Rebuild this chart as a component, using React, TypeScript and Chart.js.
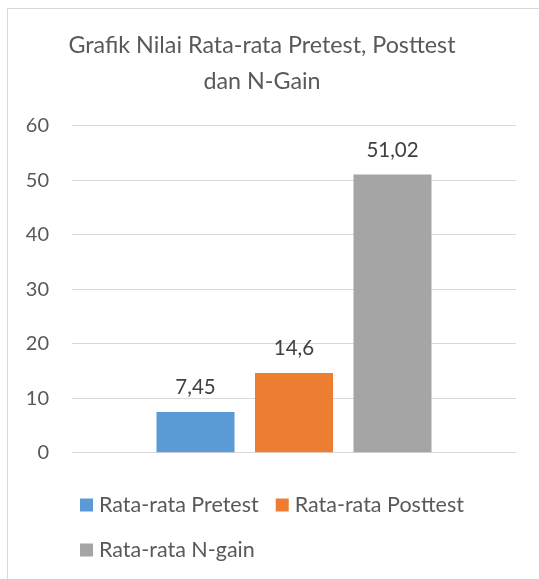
import React, { useEffect, useRef } from "react";
import { Chart, registerables } from "chart.js";

Chart.register(...registerables);

const categories = ["Nilai"];
const seriesLabels = ["Rata-rata Pretest", "Rata-rata Posttest", "Rata-rata N-gain"];
const seriesValues = [7.45, 14.6, 51.02];
const seriesColors = ["#5B9BD5", "#ED7D31", "#A5A5A5"];
const titleLines = ["Grafik Nilai Rata-rata Pretest, Posttest", "dan N-Gain"];
const yMin = 0;
const yMax = 60;
const yStep = 10;

const FONT = "Lato";

const formatValue = (v: number) => String(v).replace(".", ",");

const dataLabelPlugin = {
  id: "dataLabels",
  afterDatasetsDraw(chart: any) {
    const { ctx } = chart;
    ctx.save();
    ctx.font = `20.5px ${FONT}`;
    ctx.fillStyle = "#404040";
    ctx.textAlign = "center";
    ctx.textBaseline = "alphabetic";
    chart.data.datasets.forEach((ds: any, i: number) => {
      const meta = chart.getDatasetMeta(i);
      meta.data.forEach((bar: any, j: number) => {
        const v = ds.data[j];
        ctx.fillText(formatValue(v), bar.x, bar.y - 18);
      });
    });
    ctx.restore();
  },
};

const legendPlugin = {
  id: "customLegend",
  afterDraw(chart: any) {
    const { ctx, chartArea } = chart;
    ctx.save();
    ctx.font = `21.5px ${FONT}`;
    ctx.textBaseline = "middle";
    ctx.textAlign = "left";
    const startX = chartArea.left + 8;
    let x = startX;
    let y = chartArea.bottom + 52.3;
    chart.data.datasets.forEach((ds: any, i: number) => {
      const tw = ctx.measureText(ds.label).width;
      const w = 13 + 6 + tw;
      if (i > 0 && x + w > chart.width - 10) {
        x = startX;
        y += 45;
      }
      ctx.fillStyle = ds.backgroundColor;
      ctx.fillRect(x, y - 6.5, 13, 13);
      ctx.fillStyle = "#595959";
      ctx.fillText(ds.label, x + 19, y);
      x += w + 17;
    });
    ctx.restore();
  },
};

export default function App() {
  const canvasRef = useRef<HTMLCanvasElement | null>(null);

  useEffect(() => {
    if (!canvasRef.current) return;
    Chart.defaults.font.family = FONT;
    const chart = new Chart(canvasRef.current, {
      type: "bar",
      data: {
        labels: categories,
        datasets: seriesLabels.map((label, i) => ({
          label,
          data: [seriesValues[i]],
          backgroundColor: seriesColors[i],
          borderWidth: 0,
          categoryPercentage: 0.6655,
          barPercentage: 0.792,
        })),
      },
      options: {
        responsive: false,
        maintainAspectRatio: false,
        animation: false,
        layout: { padding: { left: 0, right: 23, top: 0, bottom: 126.3 } },
        plugins: {
          legend: { display: false },
          tooltip: { enabled: false },
          title: {
            display: true,
            text: titleLines,
            color: "#595959",
            font: { family: FONT, size: 23.3, weight: "normal", lineHeight: "35.3px" },
            padding: { top: 19.05, bottom: 27 },
          },
        },
        scales: {
          x: { display: false },
          y: {
            min: yMin,
            max: yMax,
            afterFit: (scale: any) => {
              scale.width = 64;
            },
            ticks: {
              stepSize: yStep,
              color: "#595959",
              padding: 23,
              font: { family: FONT, size: 20 },
            },
            grid: { color: "#D9D9D9", lineWidth: 1, drawTicks: false },
            border: { display: false },
          },
        },
      },
      plugins: [dataLabelPlugin, legendPlugin],
    });
    return () => chart.destroy();
  }, []);

  return (
    <div
      style={{
        position: "absolute",
        left: 7,
        top: 8,
        width: 532,
        height: 571,
        boxSizing: "border-box",
        borderLeft: "1px solid #D9D9D9",
        borderTop: "1px solid #D9D9D9",
        background: "#fff",
        overflow: "hidden",
      }}
    >
      <canvas ref={canvasRef} width={531} height={570} style={{ display: "block" }} />
    </div>
  );
}
